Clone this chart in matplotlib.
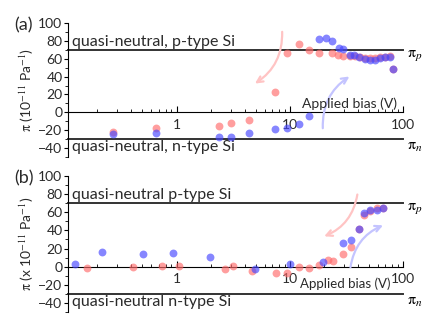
import matplotlib
matplotlib.use("Agg")
import matplotlib.pyplot as plt
import numpy as np
from matplotlib.ticker import MultipleLocator, FixedLocator, LogLocator, NullFormatter

plt.rcParams['font.family'] = ['Lato', 'DejaVu Sans']
plt.rcParams['mathtext.fontset'] = 'stix'
plt.rcParams['font.size'] = 8.5

# panel (a) data
a_red_x = [0.273, 0.657, 2.36, 3.05, 4.34, 7.35, 9.44, 11.97, 14.86, 18.3, 23.8, 26.5, 29.5,
           33.7, 37.5, 41.5, 46, 51, 56.5, 63, 69.5, 77, 81]
a_red_y = [-21.9, -17.4, -15.6, -11.5, -8.9, 23.3, 66.3, 76.3, 69.6, 66, 66, 64, 63,
           63.5, 62.5, 62, 61, 61, 60.5, 61.5, 62, 63, 48.5]
a_blue_x = [0.273, 0.657, 2.36, 3.05, 4.34, 7.35, 9.44, 11.97, 14.86, 18.3, 21, 23.8, 27.3,
            29.8, 33.7, 37, 41.2, 46.3, 51.3, 56.8, 63, 69.5, 77, 81]
a_blue_y = [-24.8, -22.6, -27.4, -27.4, -22.6, -18.5, -17, -13.3, -3.7, 82.6, 83.7, 79.5, 72,
            71, 64.5, 64.5, 61.5, 59.5, 58.5, 58.5, 61, 62, 61.5, 48.5]

# panel (b) data
b_red_x = [0.161, 0.412, 0.738, 1.05, 2.67, 3.13, 4.64, 7.55, 9.44, 11.97, 14.86, 18.3, 21.6,
           24, 29.4, 34.7, 41, 45.5, 51.2, 58.5, 66.8]
b_red_y = [-1.5, -0.4, 0.4, 0.4, -2.2, 1.1, -5.1, -7.3, -7, -0.4, -1.1, 2.2, 7.7,
           6.6, 14, 21.6, 41.4, 56.5, 61.9, 65, 64.5]
b_blue_x = [0.126, 0.221, 0.508, 0.935, 1.97, 4.9, 9.96, 19.6, 29.4, 34.7, 41, 45.5, 51.2,
            58.5, 66.8]
b_blue_y = [3.3, 15.7, 13.5, 15, 10.2, -2.9, 3, 5.5, 26, 29.7, 41.4, 59, 62.5,
            62.5, 64.5]

pi_p, pi_n = 70, -30
red_c, blue_c = '#ff6b6b', '#4646ff'
pink_arrow, blue_arrow = '#ffc4c4', '#c4c4ff'
txt_c = '#2a2a2a'

fig = plt.figure(figsize=(4.36, 3.26), dpi=100)
W, H = 436, 326


def make_axes(top, bottom):
    return fig.add_axes([68 / W, 1 - bottom / H, (403 - 68) / W, (bottom - top) / H])


def style(ax, label, ylabel, ptxt, ntxt, red, blue, arrows, bias_pos, bias_fs):
    ax.set_xscale('log')
    ax.set_xlim(0.11, 100)
    ax.set_ylim(-50, 100)
    for s in ['top', 'right']:
        ax.spines[s].set_visible(False)
    ax.spines['bottom'].set_position(('data', 0))
    ax.spines['bottom'].set_linewidth(0.8)
    ax.spines['left'].set_linewidth(0.8)
    ax.yaxis.set_major_locator(MultipleLocator(20))
    ax.yaxis.set_minor_locator(MultipleLocator(10))
    ax.xaxis.set_major_locator(FixedLocator([1, 10, 100]))
    ax.xaxis.set_minor_locator(LogLocator(subs=np.arange(2, 10)))
    ax.xaxis.set_minor_formatter(NullFormatter())
    ax.set_xticklabels(['1', '10', '100'])
    ax.tick_params(axis='both', which='both', labelcolor=txt_c)
    ax.tick_params(axis='x', which='both', direction='in', labelsize=10, pad=4.5)
    ax.tick_params(axis='x', which='major', length=4)
    ax.tick_params(axis='x', which='minor', length=2)
    ax.tick_params(axis='y', which='major', direction='out', length=3, labelsize=10, pad=1)
    ax.tick_params(axis='y', which='minor', direction='out', length=2)

    ax.axhline(pi_p, color='#333333', lw=1.4, clip_on=False)
    ax.axhline(pi_n, color='#333333', lw=1.4, clip_on=False)
    tr = ax.get_yaxis_transform()
    ax.text(0.013, pi_p + 1, ptxt, transform=tr, va='bottom', ha='left', fontsize=11.5, color=txt_c)
    ax.text(0.013, pi_n - 1.5, ntxt, transform=tr, va='top', ha='left', fontsize=11.5, color=txt_c)
    ax.text(1.012, pi_p - 6, r'$\mathrm{\pi}_p$', transform=tr, va='center', ha='left', fontsize=11.5)
    ax.text(1.012, pi_n - 9, r'$\mathrm{\pi}_n$', transform=tr, va='center', ha='left', fontsize=11.5)

    ax.scatter(red[0], red[1], s=32, color=red_c, alpha=0.65, lw=0, zorder=3)
    ax.scatter(blue[0], blue[1], s=32, color=blue_c, alpha=0.65, lw=0, zorder=3)

    for (start, end, col, rad) in arrows:
        ax.annotate('', xy=end, xytext=start, xycoords='axes fraction', textcoords='axes fraction',
                    arrowprops=dict(arrowstyle='->,head_length=0.5,head_width=0.25', color=col, lw=1.6,
                                    connectionstyle='arc3,rad=%s' % rad))

    ax.text(bias_pos[0], bias_pos[1], 'Applied bias (V)', transform=ax.transAxes,
            ha='left', va='center', fontsize=bias_fs, color=txt_c)
    ax.set_ylabel(ylabel, fontsize=10, labelpad=2, color=txt_c)
    ax.text(-0.16, 0.985, label, transform=ax.transAxes, fontsize=13, va='center', ha='left', color=txt_c)


ax1 = make_axes(23, 157)
style(ax1, '(a)', r'$\mathrm{\pi}$ (10$^{-11}$ Pa$^{-1}$)',
      'quasi-neutral, p-type Si', 'quasi-neutral, n-type Si',
      (a_red_x, a_red_y), (a_blue_x, a_blue_y),
      [((0.639, 0.955), (0.551, 0.537), pink_arrow, -0.3),
       ((0.761, 0.194), (0.847, 0.612), blue_arrow, -0.3)],
      (0.698, 0.40), 10)

ax2 = make_axes(176, 312)
style(ax2, '(b)', r'$\mathrm{\pi}$ (x 10$^{-11}$ Pa$^{-1}$)',
      'quasi-neutral p-type Si', 'quasi-neutral n-type Si',
      (b_red_x, b_red_y), (b_blue_x, b_blue_y),
      [((0.865, 0.884), (0.757, 0.549), pink_arrow, -0.3),
       ((0.842, 0.309), (0.948, 0.645), blue_arrow, -0.3)],
      (0.692, 0.205), 9.5)

fig.savefig('out.png', dpi=100)
